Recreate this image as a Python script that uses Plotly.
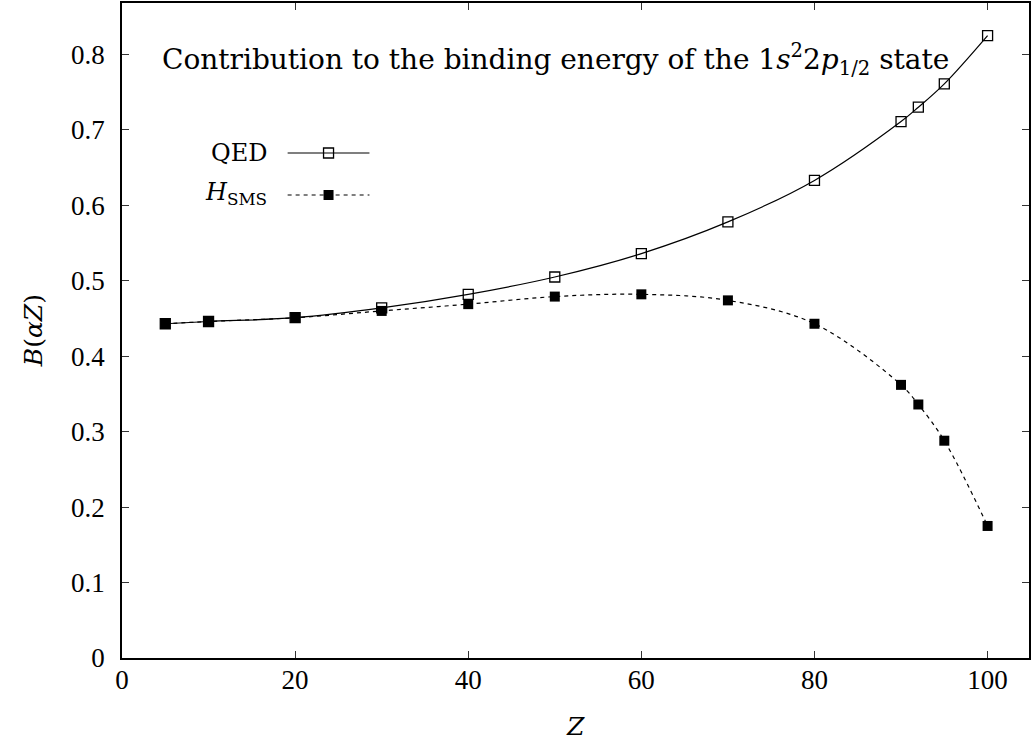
import plotly.graph_objects as go

# ---- data ----
Z = [5, 10, 20, 30, 40, 50, 60, 70, 80, 90, 92, 95, 100]
qed = [0.443, 0.446, 0.451, 0.464, 0.482, 0.505, 0.536, 0.578, 0.633, 0.711, 0.730, 0.761, 0.825]
sms = [0.443, 0.446, 0.451, 0.460, 0.469, 0.479, 0.482, 0.474, 0.443, 0.362, 0.336, 0.288, 0.175]
xticks = [0, 20, 40, 60, 80, 100]
yticks = [0, 0.1, 0.2, 0.3, 0.4, 0.5, 0.6, 0.7, 0.8]
ytick_text = ["0", "0.1", "0.2", "0.3", "0.4", "0.5", "0.6", "0.7", "0.8"]

W, H = 1031, 747
L, R, T, B = 122, 0, 3, 89
pw, ph = W - L - R, H - T - B

def px(x):
    return (x - L) / pw

def py(y):
    return (H - B - y) / ph

TICKFONT = dict(family="Liberation Serif, Times New Roman, serif", size=27, color="black")
TXTFONT = dict(family="DejaVu Serif, serif", size=24, color="black")

fig = go.Figure()
fig.add_trace(go.Scatter(
    x=Z, y=qed, mode="lines+markers", name="QED",
    line=dict(color="black", width=1.2, shape="spline", smoothing=1.0),
    marker=dict(symbol="square-open", size=10, color="black", line=dict(width=1.3)),
    showlegend=False))
fig.add_trace(go.Scatter(
    x=Z, y=sms, mode="lines+markers", name="H_SMS",
    line=dict(color="black", width=1.2, dash="4px,4px", shape="spline", smoothing=1.0),
    marker=dict(symbol="square", size=10, color="black"),
    showlegend=False))

# legend samples on an overlay axis in paper units (0..1)
leg_x = [px(288), px(370)]
fig.add_trace(go.Scatter(x=leg_x, y=[py(153)] * 2, mode="lines", xaxis="x2", yaxis="y2",
                         line=dict(color="black", width=1.2), showlegend=False, hoverinfo="skip"))
fig.add_trace(go.Scatter(x=[px(329)], y=[py(153)], mode="markers", xaxis="x2", yaxis="y2",
                         marker=dict(symbol="square-open", size=10, color="black", line=dict(width=1.3)),
                         showlegend=False, hoverinfo="skip"))
fig.add_trace(go.Scatter(x=leg_x, y=[py(195)] * 2, mode="lines", xaxis="x2", yaxis="y2",
                         line=dict(color="black", width=1.2, dash="4px,4px"), showlegend=False, hoverinfo="skip"))
fig.add_trace(go.Scatter(x=[px(329)], y=[py(195)], mode="markers", xaxis="x2", yaxis="y2",
                         marker=dict(symbol="square", size=10, color="black"),
                         showlegend=False, hoverinfo="skip"))

axis_common = dict(showgrid=False, zeroline=False, showline=True, linecolor="black", linewidth=1.5,
                   mirror="ticks", ticks="inside", ticklen=7, tickwidth=1.2, tickcolor="#333",
                   tickfont=TICKFONT)
fig.update_layout(
    width=W, height=H,
    margin=dict(l=L, r=R, t=T, b=B),
    paper_bgcolor="white", plot_bgcolor="white",
    xaxis=dict(range=[0, pw / 8.675], tickvals=xticks, ticklabelstandoff=-3, **axis_common),
    yaxis=dict(range=[0, ph / 754.5], tickvals=yticks, ticktext=ytick_text, ticklabelstandoff=10, **axis_common),
    xaxis2=dict(overlaying="x", range=[0, 1], visible=False, anchor="y2"),
    yaxis2=dict(overlaying="y", range=[0, 1], visible=False, anchor="x2"),
    showlegend=False,
)

fig.add_annotation(xref="paper", yref="paper", x=px(160), y=py(60), xanchor="left", yanchor="middle",
                   text="Contribution to the binding energy of the 1<i>s</i><sup>2</sup>2<i>p</i><sub>1/2</sub> state",
                   showarrow=False, font=dict(family="DejaVu Serif, serif", size=28, color="black"))
fig.add_annotation(xref="paper", yref="paper", x=px(269), y=py(153), xanchor="right", yanchor="middle",
                   text="QED", showarrow=False, font=TXTFONT)
fig.add_annotation(xref="paper", yref="paper", x=px(269), y=py(193), xanchor="right", yanchor="middle",
                   text="<i>H</i><sub>SMS</sub>", showarrow=False, font=TXTFONT)
fig.add_annotation(xref="paper", yref="paper", x=px(577), y=py(726), xanchor="center", yanchor="middle",
                   text="<i>Z</i>", showarrow=False, font=dict(family="DejaVu Serif, serif", size=25, color="black"))
fig.add_annotation(xref="paper", yref="paper", x=px(33), y=py(331), xanchor="center", yanchor="middle",
                   text="<i>B</i>(<i>α</i><i>Z</i>)", textangle=-90, showarrow=False,
                   font=dict(family="DejaVu Serif, serif", size=25, color="black"))

fig.write_html("out.html", config={"displayModeBar": False},
               post_script="document.body.style.margin='0px';document.body.style.overflow='hidden';")
